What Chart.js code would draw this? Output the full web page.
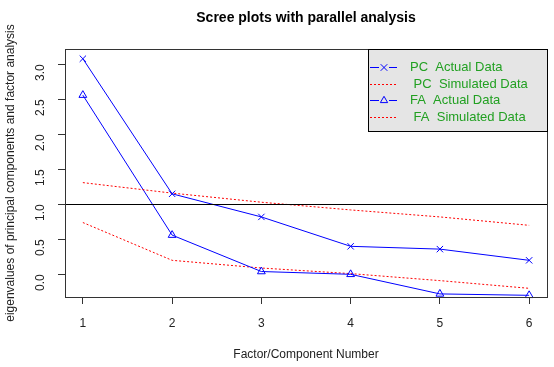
<!DOCTYPE html>
<html>
<head>
<meta charset="utf-8">
<script src="https://cdn.jsdelivr.net/npm/chart.js@4"></script>
<style>
  html,body{margin:0;padding:0;background:#fff;}
  #wrap{width:554px;height:367px;}
</style>
</head>
<body>
<div id="wrap"><canvas id="scree" width="554" height="367"></canvas></div>
<script>
// ── Data ────────────────────────────────────────────────────────────────────
const FACTOR_NUM   = [1, 2, 3, 4, 5, 6];
const PC_ACTUAL    = [3.08, 1.15, 0.82, 0.40, 0.36, 0.20];
const PC_SIMULATED = [1.31, 1.16, 1.03, 0.92, 0.82, 0.70];
const FA_ACTUAL    = [2.56, 0.56, 0.04, 0.00, -0.28, -0.30];
const FA_SIMULATED = [0.74, 0.20, 0.09, 0.01, -0.09, -0.20];
const X_TICKS = [1, 2, 3, 4, 5, 6];
const Y_TICKS = [0, 0.5, 1, 1.5, 2, 2.5, 3];
const ABLINE_Y = 1;
const LEGEND_LABELS = ['PC  Actual Data', ' PC  Simulated Data', 'FA  Actual Data', ' FA  Simulated Data'];

const pts = arr => FACTOR_NUM.map((x,i)=>({x, y:arr[i]}));
const FONT = 'Liberation Sans, Arial, Helvetica, sans-serif';
const BLUE = '#0000ff', RED = '#ff0000';

// ── Extras: box, y=1 line, legend ──────────────────────────────────────────
function legendMarker(ctx, style, x, y) {
  ctx.strokeStyle = BLUE; ctx.lineWidth = 1; ctx.setLineDash([]);
  ctx.beginPath();
  if (style==='crossRot') {
    const r = 3.3;
    ctx.moveTo(x-r, y-r); ctx.lineTo(x+r, y+r);
    ctx.moveTo(x-r, y+r); ctx.lineTo(x+r, y-r);
  } else {
    const r = 4.2;
    ctx.moveTo(x, y-r); ctx.lineTo(x+r*0.87, y+r*0.5); ctx.lineTo(x-r*0.87, y+r*0.5); ctx.closePath();
  }
  ctx.stroke();
}

const screeExtras = {
  id:'screeExtras',
  afterDatasetsDraw(chart) {
    const {ctx, chartArea:a, scales:{y}} = chart;
    ctx.save();
    // abline
    const yy = Math.round(y.getPixelForValue(ABLINE_Y)) + 0.5;
    ctx.strokeStyle = '#000'; ctx.lineWidth = 1;
    ctx.beginPath(); ctx.moveTo(a.left, yy); ctx.lineTo(a.right, yy); ctx.stroke();
    // plot box
    ctx.strokeStyle = '#333';
    ctx.strokeRect(Math.round(a.left)+0.5, Math.round(a.top)+0.5, Math.round(a.right-a.left), Math.round(a.bottom-a.top));
    // legend
    const lx = 368, lw = Math.round(a.right) - lx, ly = Math.round(a.top), lh = 82;
    ctx.fillStyle = '#e5e5e5';
    ctx.fillRect(lx+0.5, ly+0.5, lw, lh);
    ctx.strokeStyle = '#000';
    ctx.strokeRect(lx+0.5, ly+0.5, lw, lh);
    ctx.font = '13px ' + FONT;
    ctx.textBaseline = 'middle';
    chart.data.datasets.forEach((ds,i)=>{
      const cy = Math.round(ly + 18 + i*16.7) + 0.5;
      const dashed = !!ds.borderDash;
      ctx.strokeStyle = dashed ? RED : BLUE; ctx.lineWidth = 1;
      ctx.setLineDash(dashed ? [2,2] : []);
      ctx.beginPath();
      if (dashed) { ctx.moveTo(370, cy); ctx.lineTo(397, cy); }
      else { ctx.moveTo(370, cy); ctx.lineTo(379, cy); ctx.moveTo(389, cy); ctx.lineTo(397, cy); }
      ctx.stroke();
      if (!dashed) legendMarker(ctx, ds.pointStyle, 384, cy);
      ctx.fillStyle = '#22a022';
      ctx.fillText(LEGEND_LABELS[i], 410, cy);
    });
    ctx.restore();
  }
};

new Chart(document.getElementById('scree'), {
  type:'line',
  data:{
    datasets:[
      { label:LEGEND_LABELS[0], data:pts(PC_ACTUAL), borderColor:BLUE, backgroundColor:'transparent',
        borderWidth:1, pointStyle:'crossRot', pointRadius:4.5, pointBorderWidth:1, pointBorderColor:BLUE, clip:false },
      { label:LEGEND_LABELS[1], data:pts(PC_SIMULATED), borderColor:RED, borderDash:[2,2],
        borderWidth:1, pointRadius:0, clip:false },
      { label:LEGEND_LABELS[2], data:pts(FA_ACTUAL), borderColor:BLUE, backgroundColor:'transparent',
        borderWidth:1, pointStyle:'triangle', pointRadius:4.5, pointBorderWidth:1, pointBorderColor:BLUE, clip:false },
      { label:LEGEND_LABELS[3], data:pts(FA_SIMULATED), borderColor:RED, borderDash:[2,2],
        borderWidth:1, pointRadius:0, clip:false },
    ]
  },
  options:{
    responsive:false, animation:false,
    layout:{ padding:{ top:49, right:7, left:0, bottom:0 } },
    plugins:{
      legend:{ display:false }, tooltip:{ enabled:false },
      title:{ display:false },
    },
    scales:{
      x:{
        type:'linear', min:0.8, max:6.2,
        afterBuildTicks: s => { s.ticks = X_TICKS.map(v=>({value:v})); },
        afterFit: s => { s.height = 70; },
        grid:{ drawOnChartArea:false, drawTicks:true, tickLength:7, color:'#333' },
        border:{ display:false },
        ticks:{ font:{size:12, family:FONT}, color:'#222', padding:12, maxRotation:0 },
        title:{ display:true, text:'Factor/Component Number', font:{size:12, family:FONT}, color:'#222', padding:{top:0,bottom:5} },
      },
      y:{
        type:'linear', min:-0.324, max:3.219,
        afterBuildTicks: s => { s.ticks = Y_TICKS.map(v=>({value:v})); },
        afterFit: s => { s.width = 65; },
        grid:{ drawOnChartArea:false, drawTicks:true, tickLength:7, color:'#333' },
        border:{ display:false },
        ticks:{ font:{size:12, family:FONT}, color:'#222', padding:17, minRotation:90, maxRotation:90,
          callback: v => v.toFixed(1) },
        title:{ display:true, text:'eigenvalues of principal components and factor analysis', font:{size:12, family:FONT}, color:'#222', padding:{top:3,bottom:0} },
      },
    },
  },
  plugins:[screeExtras, {
    id:'mainTitle',
    afterDraw(chart){
      const {ctx} = chart;
      ctx.save();
      ctx.font = 'bold 14px ' + FONT;
      ctx.fillStyle = '#000'; ctx.textAlign = 'center'; ctx.textBaseline = 'middle';
      ctx.fillText('Scree plots with parallel analysis', (chart.chartArea.left+chart.chartArea.right)/2, 18);
      ctx.restore();
    }
  }],
});
</script>
</body>
</html>
